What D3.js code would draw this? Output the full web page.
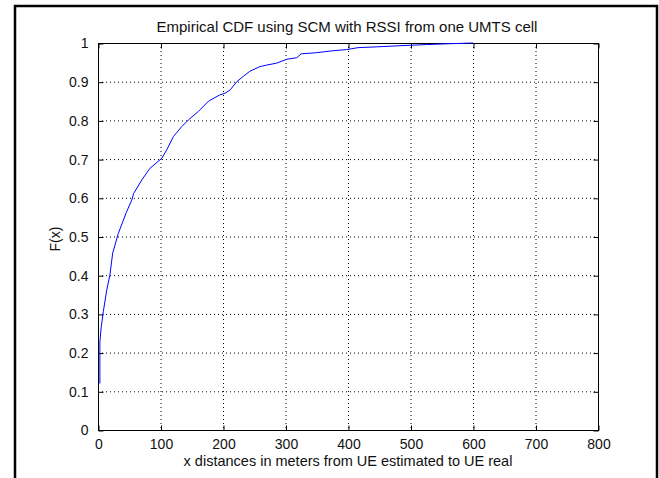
<!DOCTYPE html>
<html>
<head>
<meta charset="UTF-8">
<script src="https://d3js.org/d3.v7.min.js"></script>
<style>
  body { margin: 0; background: #fff; }
  svg { display: block; font-family: "Liberation Sans", Arial, sans-serif; }
  .grid line { stroke: #000; stroke-dasharray: 1,3; stroke-width: 1; }
</style>
</head>
<body>
<svg width="659" height="478"></svg>
<script>
  // empirical CDF: distance (m) and F(x)
  const distances = [3, 3, 5, 8.5, 14, 19, 23.5, 32.5, 45, 54, 57, 70, 83, 102, 110, 120.5, 134, 144.5, 160.5, 177, 195, 203, 211, 222, 232.5, 243, 259, 270, 286, 302, 318, 325, 350, 376, 398, 416, 446, 483, 526, 560, 600];
  const cdf = [0.12, 0.228, 0.264, 0.306, 0.362, 0.40, 0.457, 0.508, 0.561, 0.594, 0.611, 0.646, 0.676, 0.702, 0.724, 0.758, 0.784, 0.801, 0.823, 0.850, 0.866, 0.870, 0.878, 0.900, 0.914, 0.927, 0.939, 0.943, 0.948, 0.958, 0.962, 0.972, 0.975, 0.980, 0.983, 0.988, 0.990, 0.993, 0.996, 0.998, 1.0];
  const xTicks = [0, 100, 200, 300, 400, 500, 600, 700, 800];
  const yTicks = [0, 0.1, 0.2, 0.3, 0.4, 0.5, 0.6, 0.7, 0.8, 0.9, 1];

  const svg = d3.select("svg");
  const pL = 98, pR = 598, pT = 43, pB = 430;

  const x = d3.scaleLinear().domain([0, 800]).range([pL, pR]);
  const y = d3.scaleLinear().domain([0, 1]).range([pB, pT]);

  // outer figure frame
  svg.append("rect")
    .attr("x", 15).attr("y", 6)
    .attr("width", 642).attr("height", 500)
    .attr("fill", "none").attr("stroke", "#000").attr("stroke-width", 2.5);

  // grid
  const grid = svg.append("g").attr("class", "grid");
  grid.selectAll(".gx").data(xTicks.slice(1, -1)).join("line")
    .attr("x1", d => x(d) + 0.5).attr("x2", d => x(d) + 0.5)
    .attr("y1", pT).attr("y2", pB);
  grid.selectAll(".gy").data(yTicks.slice(1, -1)).join("line")
    .attr("y1", d => y(d) + 0.5).attr("y2", d => y(d) + 0.5)
    .attr("x1", pL).attr("x2", pR);

  // axes (ticks inside, on all sides)
  const fmt = d => d3.format("")(+d.toFixed(1));
  const axB = svg.append("g").attr("transform", `translate(0.5,${pB + 0.5})`)
    .call(d3.axisBottom(x).tickValues(xTicks).tickSizeInner(-5).tickSizeOuter(0).tickPadding(9).tickFormat(fmt));
  const axT = svg.append("g").attr("transform", `translate(0.5,${pT + 0.5})`)
    .call(d3.axisTop(x).tickValues(xTicks).tickSizeInner(-5).tickSizeOuter(0).tickFormat(""));
  const axL = svg.append("g").attr("transform", `translate(${pL + 0.5},0.5)`)
    .call(d3.axisLeft(y).tickValues(yTicks).tickSizeInner(-5).tickSizeOuter(0).tickPadding(10).tickFormat(fmt));
  const axR = svg.append("g").attr("transform", `translate(${pR + 0.5},0.5)`)
    .call(d3.axisRight(y).tickValues(yTicks).tickSizeInner(-5).tickSizeOuter(0).tickFormat(""));
  [axB, axT, axL, axR].forEach(a => {
    a.select(".domain").remove();
    a.selectAll("line").attr("stroke", "#000");
    a.selectAll("text").attr("font-size", 14).attr("fill", "#111").attr("font-family", "Liberation Sans, Arial, sans-serif");
  });

  svg.append("rect")
    .attr("x", pL + 0.5).attr("y", pT + 0.5)
    .attr("width", pR - pL).attr("height", pB - pT)
    .attr("fill", "none").attr("stroke", "#000");

  // curve
  const pts = distances.map((d, i) => [d, cdf[i]]);
  svg.append("path")
    .datum(pts)
    .attr("fill", "none")
    .attr("stroke", "#0000ff")
    .attr("stroke-width", 1)
    .attr("d", d3.line().x(d => x(d[0])).y(d => y(d[1])));

  // texts
  svg.append("text").attr("x", (pL + pR) / 2 - 1).attr("y", 32)
    .attr("text-anchor", "middle").attr("font-size", 15).attr("fill", "#111")
    .text("Empirical CDF using SCM with RSSI from one UMTS cell");
  svg.append("text").attr("x", (pL + pR) / 2).attr("y", 466)
    .attr("text-anchor", "middle").attr("font-size", 14.5).attr("fill", "#111")
    .text("x distances in meters from UE estimated to UE real");
  svg.append("text").attr("transform", "translate(60,239) rotate(-90)")
    .attr("text-anchor", "middle").attr("font-size", 14).attr("fill", "#111")
    .text("F(x)");
</script>
</body>
</html>
